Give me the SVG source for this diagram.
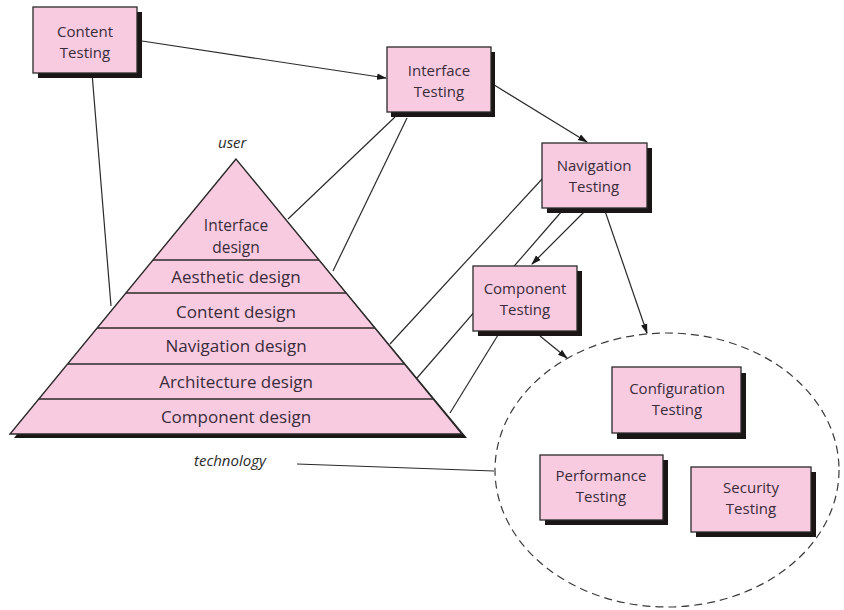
<svg xmlns="http://www.w3.org/2000/svg" width="844" height="610" viewBox="0 0 844 610">
<defs>
<marker id="ah" markerWidth="10" markerHeight="8" refX="9" refY="4" orient="auto" markerUnits="userSpaceOnUse">
<path d="M0,0.8 L10,4 L0,7.2 Z" fill="#1a1a1a"/>
</marker>
</defs>
<style>
.box{fill:#f9cbe0;stroke:#2a2a2a;stroke-width:1.3}
.sh{fill:#1a1616}
.t{font-family:"Open Sans","Liberation Sans",sans-serif;font-size:15px;fill:#3a2c3a;text-anchor:middle}
.pt{font-family:"Open Sans","Liberation Sans",sans-serif;font-size:17px;fill:#3a2c3a;text-anchor:middle}
.pt2{font-family:"Open Sans","Liberation Sans",sans-serif;font-size:15.5px;fill:#3a2c3a;text-anchor:middle}
.it{font-family:"Open Sans","Liberation Sans",sans-serif;font-size:15px;font-style:italic;fill:#2a2a2a}
.c{stroke:#2a2a2a;stroke-width:1.2;fill:none}
.band{stroke:#2a2a2a;stroke-width:1.3}
</style>
<rect width="844" height="610" fill="#ffffff"/>

<g id="connectors">
<line class="c" x1="142" y1="41" x2="386" y2="78" marker-end="url(#ah)"/>
<line class="c" x1="92" y1="73" x2="111" y2="306"/>
<line class="c" x1="491" y1="83" x2="587" y2="142" marker-end="url(#ah)"/>
<line class="c" x1="395" y1="117" x2="288" y2="219"/>
<line class="c" x1="407" y1="118" x2="333" y2="271"/>
<line class="c" x1="543" y1="178" x2="390" y2="344"/>
<line class="c" x1="562" y1="211" x2="417" y2="378"/>
<line class="c" x1="585" y1="211" x2="532" y2="264" marker-end="url(#ah)"/>
<line class="c" x1="605" y1="211" x2="647" y2="333" marker-end="url(#ah)"/>
<line class="c" x1="498" y1="335" x2="450" y2="413"/>
<line class="c" x1="540" y1="336" x2="567" y2="358" marker-end="url(#ah)"/>
<line class="c" x1="297" y1="464" x2="494" y2="471"/>
<ellipse cx="667" cy="470" rx="172" ry="137" fill="none" stroke="#3a3a3a" stroke-width="1.2" stroke-dasharray="8,5"/>
</g>

<g id="pyramid">
<polygon points="239,163 14,438 467,438" class="sh"/>
<polygon points="236,159 10,434 462,434" fill="#f9cbe0" stroke="#2a2a2a" stroke-width="1.4"/>
<line class="band" x1="153" y1="260" x2="319" y2="260"/>
<line class="band" x1="126" y1="293" x2="346" y2="293"/>
<line class="band" x1="97" y1="328" x2="375" y2="328"/>
<line class="band" x1="68" y1="364" x2="404" y2="364"/>
<line class="band" x1="39" y1="399" x2="433" y2="399"/>
<text class="pt2" x="236" y="231">Interface</text>
<text class="pt2" x="236" y="253">design</text>
<text class="pt" x="236" y="283">Aesthetic design</text>
<text class="pt" x="236" y="318">Content design</text>
<text class="pt" x="236" y="352">Navigation design</text>
<text class="pt" x="236" y="388">Architecture design</text>
<text class="pt" x="236" y="423">Component design</text>
<text class="it" x="218" y="148">user</text>
<text class="it" x="194" y="466">technology</text>
</g>

<g id="content-testing">
<rect class="sh" x="38" y="12" width="104" height="66"/>
<rect class="box" x="33" y="7" width="104" height="66"/>
<text class="t" x="85" y="37">Content</text>
<text class="t" x="85" y="58">Testing</text>
</g>

<g id="interface-testing">
<rect class="sh" x="391" y="52" width="104" height="65"/>
<rect class="box" x="387" y="47" width="104" height="65"/>
<text class="t" x="439" y="76">Interface</text>
<text class="t" x="439" y="97">Testing</text>
</g>

<g id="navigation-testing">
<rect class="sh" x="547" y="148" width="105" height="65"/>
<rect class="box" x="542" y="143" width="105" height="65"/>
<text class="t" x="594" y="171">Navigation</text>
<text class="t" x="594" y="192">Testing</text>
</g>

<g id="component-testing">
<rect class="sh" x="478" y="271" width="104" height="65"/>
<rect class="box" x="473" y="266" width="104" height="65"/>
<text class="t" x="525" y="294">Component</text>
<text class="t" x="525" y="315">Testing</text>
</g>

<g id="configuration-testing">
<rect class="sh" x="617" y="373" width="129" height="66"/>
<rect class="box" x="612" y="367" width="129" height="66"/>
<text class="t" x="677" y="394">Configuration</text>
<text class="t" x="677" y="415">Testing</text>
</g>

<g id="performance-testing">
<rect class="sh" x="545" y="460" width="123" height="65"/>
<rect class="box" x="540" y="455" width="123" height="65"/>
<text class="t" x="601" y="481">Performance</text>
<text class="t" x="601" y="502">Testing</text>
</g>

<g id="security-testing">
<rect class="sh" x="696" y="472" width="120" height="65"/>
<rect class="box" x="691" y="467" width="120" height="65"/>
<text class="t" x="751" y="493">Security</text>
<text class="t" x="751" y="514">Testing</text>
</g>
</svg>
